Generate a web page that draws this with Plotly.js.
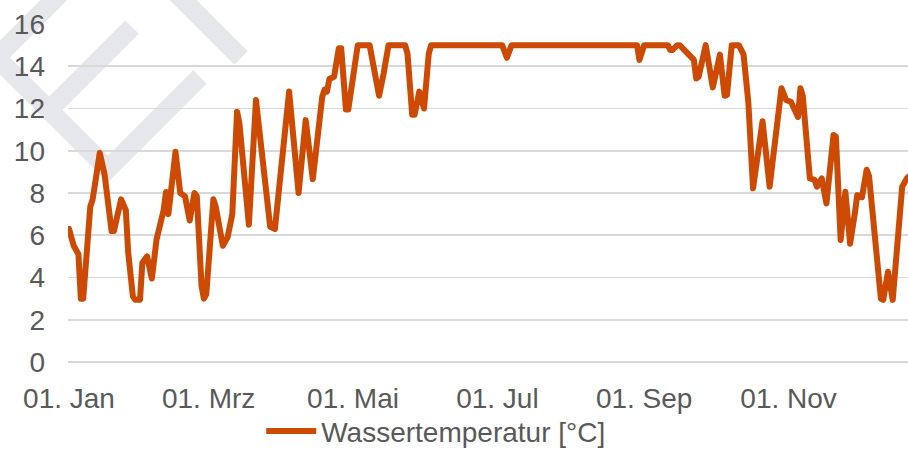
<!DOCTYPE html>
<html>
<head>
<meta charset="utf-8">
<script src="https://cdn.plot.ly/plotly-3.0.1.min.js"></script>
<style>
  html, body { margin: 0; padding: 0; background: #ffffff; }
  #chart { width: 908px; height: 449px; }
  .scatterlayer .js-line { stroke-linejoin: round; stroke-linecap: round; }
</style>
</head>
<body>
<div id="chart"></div>
<script>
// ---- data ----
const dates = [
  '2021-01-01','2021-01-03','2021-01-05','2021-01-06','2021-01-07','2021-01-10','2021-01-11','2021-01-14',
  '2021-01-16','2021-01-19','2021-01-20','2021-01-23','2021-01-25','2021-01-26','2021-01-28','2021-01-29',
  '2021-01-31','2021-02-01','2021-02-03','2021-02-05','2021-02-07','2021-02-10','2021-02-11','2021-02-12',
  '2021-02-15','2021-02-17','2021-02-19','2021-02-21','2021-02-23','2021-02-24','2021-02-26','2021-02-27',
  '2021-02-28','2021-03-03','2021-03-04','2021-03-07','2021-03-09','2021-03-10','2021-03-11','2021-03-13',
  '2021-03-14','2021-03-18','2021-03-21','2021-03-27','2021-03-29','2021-04-04','2021-04-08','2021-04-11',
  '2021-04-14','2021-04-18','2021-04-19','2021-04-20','2021-04-21','2021-04-23','2021-04-25','2021-04-26',
  '2021-04-28','2021-04-29','2021-05-03','2021-05-08','2021-05-12','2021-05-14','2021-05-16','2021-05-23',
  '2021-05-24','2021-05-26','2021-05-27','2021-05-29','2021-05-31','2021-06-02','2021-06-03','2021-07-03',
  '2021-07-05','2021-07-07','2021-08-29','2021-08-30','2021-09-01','2021-09-11','2021-09-12','2021-09-13',
  '2021-09-15','2021-09-16','2021-09-18','2021-09-19','2021-09-21','2021-09-22','2021-09-23','2021-09-24',
  '2021-09-27','2021-09-30','2021-10-03','2021-10-05','2021-10-06','2021-10-08','2021-10-11','2021-10-13',
  '2021-10-15','2021-10-17','2021-10-21','2021-10-24','2021-10-29','2021-10-31','2021-11-02','2021-11-04',
  '2021-11-05','2021-11-06','2021-11-07','2021-11-10','2021-11-12','2021-11-13','2021-11-15','2021-11-17',
  '2021-11-20','2021-11-21','2021-11-23','2021-11-25','2021-11-27','2021-11-29','2021-11-30','2021-12-02',
  '2021-12-04','2021-12-05','2021-12-10','2021-12-11','2021-12-13','2021-12-15','2021-12-19','2021-12-21',
  '2021-12-22'
];
const temps = [
  6.3, 5.5, 5.1, 3.0, 3.0, 7.35, 7.7, 9.9,
  8.9, 6.2, 6.2, 7.7, 7.2, 5.2, 3.1, 2.95,
  2.95, 4.7, 5.0, 3.95, 5.8, 7.2, 8.05, 7.0,
  9.95, 8.0, 7.85, 6.7, 8.0, 7.85, 3.6, 3.0,
  3.2, 7.7, 7.35, 5.5, 5.9, 6.4, 7.0, 11.85,
  11.3, 6.5, 12.4, 6.4, 6.3, 12.8, 8.0, 11.45,
  8.65, 12.56, 12.9, 12.8, 13.4, 13.5, 14.85, 14.85,
  11.95, 11.95, 15, 15, 12.6, 13.7, 15, 15,
  14.6, 11.7, 11.7, 12.8, 12.0, 14.6, 15, 15,
  14.4, 15, 15, 14.3, 15, 15, 14.77, 14.77,
  15, 15, 14.77, 14.6, 14.37, 14.3, 13.42, 13.5,
  15, 13.0, 14.55, 12.6, 12.64, 15, 15, 14.55,
  12.3, 8.22, 11.4, 8.3, 12.96, 12.4, 12.32, 11.8,
  11.6, 12.96, 12.6, 8.69, 8.62, 8.3, 8.69, 7.5,
  10.75, 10.67, 5.78, 8.06, 5.6, 7.04, 7.9, 7.8,
  9.1, 8.8, 3.0, 2.94, 4.27, 2.94, 8.3, 8.7,
  8.8
];
const tickVals = ['2021-01-01','2021-03-01','2021-05-01','2021-07-01','2021-09-01','2021-11-01'];
const tickText = ['01. Jan','01. Mrz','01. Mai','01. Jul','01. Sep','01. Nov'];
const seriesName = 'Wassertemperatur [°C]';

// ---- layout helpers (pixel -> paper for the background watermark) ----
const W = 908, H = 449;
const M = { l: 68, r: 0, t: 24, b: 87, autoexpand: false };
const PW = W - M.l - M.r, PH = H - M.t - M.b;
function px(x) { return (x - M.l) / PW; }
function py(y) { return (H - M.b - y) / PH; }
function pathFrom(pts) {
  return pts.map((p, i) => (i ? 'L' : 'M') + px(p[0]).toFixed(4) + ',' + py(p[1]).toFixed(4)).join(' ');
}
const wmColor = '#E6E7EB';
const wmWidth = 19;
const wmPaths = [
  [[62, -8], [-14, 68]],
  [[-14, 47], [108, 169], [200, 77]],
  [[132, 27], [52, 107]],
  [[176, -7], [241, 58]]
];
const shapes = wmPaths.map(p => ({
  type: 'path', xref: 'paper', yref: 'paper', layer: 'below',
  path: pathFrom(p), line: { color: wmColor, width: wmWidth }
}));

const font = { family: '"Liberation Sans", Arial, sans-serif', size: 28, color: '#595959' };

const trace = {
  type: 'scatter', mode: 'lines',
  x: dates, y: temps, name: seriesName,
  line: { color: '#CC4A04', width: 6, shape: 'linear' },
  hoverinfo: 'skip'
};

const layout = {
  width: W, height: H,
  margin: M,
  paper_bgcolor: '#ffffff', plot_bgcolor: 'rgba(0,0,0,0)',
  font: font,
  showlegend: true,
  legend: {
    orientation: 'h', x: 0.23, xanchor: 'left', y: -0.205, yanchor: 'middle',
    font: font, itemwidth: 50, bgcolor: 'rgba(0,0,0,0)'
  },
  xaxis: {
    type: 'date',
    range: ['2020-12-31 14:00', '2021-12-21 11:00'],
    tickmode: 'array', tickvals: tickVals, ticktext: tickText,
    showgrid: false, zeroline: false, showline: false, ticks: '',
    ticklabelstandoff: 17,
    tickfont: font
  },
  yaxis: {
    range: [0, 16], dtick: 2, tick0: 0,
    showgrid: true, gridcolor: '#D9D9D9', gridwidth: 1.6,
    zeroline: true, zerolinecolor: '#D9D9D9', zerolinewidth: 1.6,
    showline: false, ticks: '',
    ticklabelstandoff: 22,
    tickfont: font
  },
  shapes: shapes
};

Plotly.newPlot('chart', [trace], layout, { staticPlot: true, displayModeBar: false });
</script>
</body>
</html>
